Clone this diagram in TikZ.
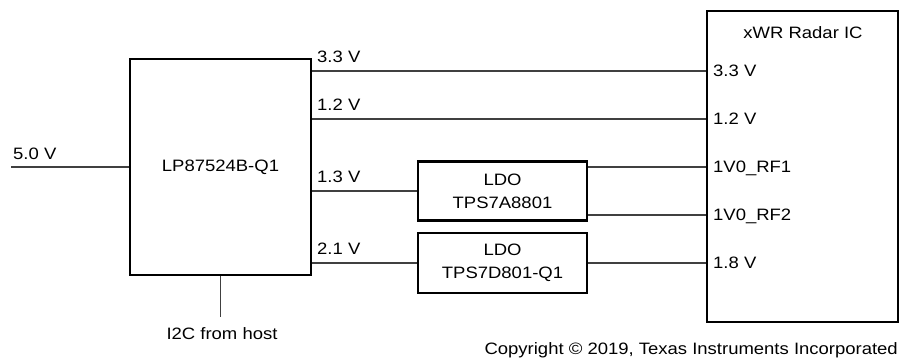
\documentclass[tikz,border=0pt]{standalone}
\usepackage{fontspec}
\setmainfont{Liberation Sans}[FakeStretch=1.12]

\begin{document}
\begin{tikzpicture}[x=1pt, y=-1pt,
  chip/.style={draw, line width=2.5pt, inner sep=0pt},
  wire/.style={line width=1.6pt, black!75},
  lbl/.style={inner sep=0pt, anchor=base west},
  pin/.style={inner sep=0pt, anchor=west, text depth=0pt},
  font=\fontsize{16.5}{23}\selectfont]
\useasboundingbox (0,0) rectangle (903,358);

\node[chip, minimum width=181pt, minimum height=216pt] (pmic) at (220.5,167) {LP87524B-Q1};
\node[chip, minimum width=191pt, minimum height=311pt] (radar) at (802.5,166.5) {};
\node[chip, minimum width=169pt, minimum height=59pt, align=center] (ldoa) at (502.5,191) {LDO\\TPS7A8801};
\node[chip, minimum width=169pt, minimum height=60pt, align=center] (ldob) at (502.5,263) {LDO\\TPS7D801-Q1};

\node[inner sep=0pt, anchor=base] (title) at (803,39) {xWR Radar IC};
\node[pin] (p33) at (713,71) {3.3 V};
\node[pin] (p12) at (713,119) {1.2 V};
\node[pin] (prfa) at (713,167) {1V0\_RF1};
\node[pin] (prfb) at (713,215) {1V0\_RF2};
\node[pin] (p18) at (713,263) {1.8 V};

\node[lbl] (w33) at (317,63) {3.3 V};
\node[lbl] (w12) at (317,111) {1.2 V};
\node[lbl] (w13) at (317,183) {1.3 V};
\node[lbl] (w21) at (317,255) {2.1 V};

\node[lbl] (vin) at (13,160) {5.0 V};
\coordinate (in) at (11,167);
\node[inner sep=0pt, anchor=base] (i2c) at (222,340) {I2C from host};
\coordinate (host) at (220.5,317);

\draw[wire] (in) -- (pmic.west);
\draw[wire] (pmic.south) -- (host);
\draw[wire] (pmic.east |- p33.west) -- (radar.west |- p33.west);
\draw[wire] (pmic.east |- p12.west) -- (radar.west |- p12.west);
\draw[wire] (pmic.east |- ldoa.west) -- (ldoa.west);
\draw[wire] (pmic.east |- ldob.west) -- (ldob.west);
\draw[wire] (ldoa.east |- prfa.west) -- (radar.west |- prfa.west);
\draw[wire] (ldoa.east |- prfb.west) -- (radar.west |- prfb.west);
\draw[wire] (ldob.east) -- (radar.west |- p18.west);

\node[inner sep=0pt, anchor=base east] (copy) at (898,355) {Copyright © 2019, Texas Instruments Incorporated};

\end{tikzpicture}
\end{document}
